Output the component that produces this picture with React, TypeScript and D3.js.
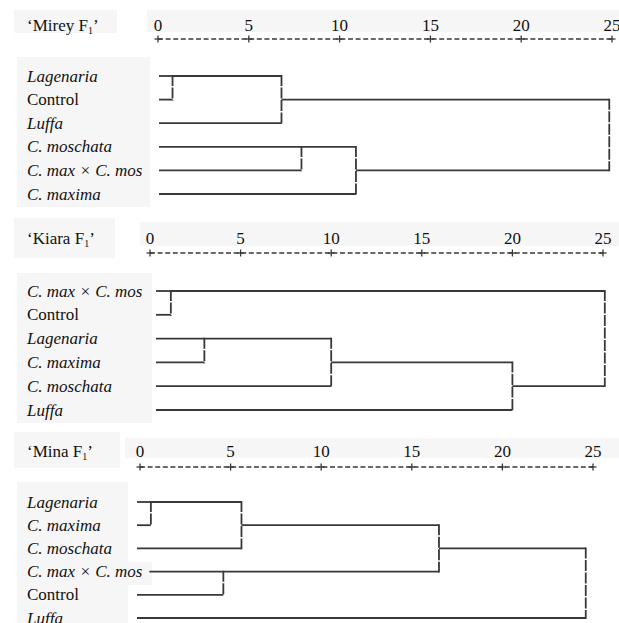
import React, { useEffect, useRef } from "react";
import * as d3 from "d3";

// ---------- data ----------
const TICKS = [0, 5, 10, 15, 20, 25];

const MIREY_TITLE = "Mirey";
const MIREY_LEAVES = ["Lagenaria", "Control", "Luffa", "C. moschata", "C. max × C. mos", "C. maxima"];
const MIREY_ITALIC = [true, false, true, true, true, true];
// [rowA, rowB, distance, rowOfMergedCluster]
const MIREY_MERGES: [number, number, number, number][] = [
  [0, 1, 0.8, 0],
  [0, 2, 6.8, 1],
  [3, 4, 7.9, 3],
  [3, 5, 10.9, 4],
  [1, 4, 24.85, 1],
];

const KIARA_TITLE = "Kiara";
const KIARA_LEAVES = ["C. max × C. mos", "Control", "Lagenaria", "C. maxima", "C. moschata", "Luffa"];
const KIARA_ITALIC = [true, false, true, true, true, true];
const KIARA_MERGES: [number, number, number, number][] = [
  [0, 1, 1.15, 0],
  [2, 3, 3.0, 2],
  [2, 4, 10.0, 3],
  [3, 5, 20.0, 4],
  [0, 4, 25.1, 0],
];

const MINA_TITLE = "Mina";
const MINA_LEAVES = ["Lagenaria", "C. maxima", "C. moschata", "C. max × C. mos", "Control", "Luffa"];
const MINA_ITALIC = [true, true, true, true, false, true];
const MINA_MERGES: [number, number, number, number][] = [
  [0, 1, 0.6, 0],
  [0, 2, 5.6, 1],
  [3, 4, 4.6, 3],
  [1, 3, 16.5, 2],
  [2, 5, 24.6, 2],
];

// ---------- layout ----------
const PANELS = [
  {
    title: MIREY_TITLE, leaves: MIREY_LEAVES, italic: MIREY_ITALIC, merges: MIREY_MERGES,
    titleBox: [14, 10, 103, 23], bandBox: [147, 10, 472, 22], labelBoxes: [[17, 57, 133, 150]],
    textY: 31, axisY: 39, x0: 158, x1: 612, rowTop: 76, rowBottom: 194, startOff: 1,
  },
  {
    title: KIARA_TITLE, leaves: KIARA_LEAVES, italic: KIARA_ITALIC, merges: KIARA_MERGES,
    titleBox: [14, 218, 101, 40], bandBox: [140, 222, 479, 24], labelBoxes: [[17, 273, 135, 150]],
    textY: 244, axisY: 253, x0: 150, x1: 603, rowTop: 291, rowBottom: 410, startOff: 6,
  },
  {
    title: MINA_TITLE, leaves: MINA_LEAVES, italic: MINA_ITALIC, merges: MINA_MERGES,
    titleBox: [14, 432, 106, 36], bandBox: [125, 438, 494, 20], labelBoxes: [[17, 482, 111, 141], [17, 562, 135, 23]],
    textY: 457, axisY: 467, x0: 140, x1: 593, rowTop: 502, rowBottom: 618, startOff: -3,
  },
];

const FONT = "'Liberation Serif', 'Times New Roman', serif";
const INK = "#383838";

export default function App() {
  const ref = useRef<SVGSVGElement>(null);

  useEffect(() => {
    const svg = d3.select(ref.current);
    svg.selectAll("*").remove();

    PANELS.forEach((p) => {
      const g = svg.append("g");
      const x = d3.scaleLinear().domain([0, 25]).range([p.x0, p.x1]);
      const y = d3.scaleLinear().domain([0, p.leaves.length - 1]).range([p.rowTop, p.rowBottom]);

      // faint background boxes
      const boxes = [p.titleBox, p.bandBox, ...p.labelBoxes];
      boxes.forEach((b) => {
        g.append("rect").attr("x", b[0]).attr("y", b[1]).attr("width", b[2]).attr("height", b[3])
          .attr("fill", "#f6f6f6");
      });

      // title
      const t = g.append("text").attr("x", 27).attr("y", p.textY)
        .attr("font-family", FONT).attr("font-size", 17).attr("fill", "#111");
      t.append("tspan").text("\u2018" + p.title + " F");
      t.append("tspan").attr("font-size", 10).attr("dy", 3).text("1");
      t.append("tspan").attr("dy", -3).text("\u2019");

      // axis
      g.append("line").attr("x1", x(0)).attr("x2", x(25)).attr("y1", p.axisY).attr("y2", p.axisY)
        .attr("stroke", INK).attr("stroke-width", 1.3).attr("stroke-dasharray", "5,2.6");
      TICKS.forEach((v) => {
        g.append("line").attr("x1", x(v)).attr("x2", x(v)).attr("y1", p.axisY - 3.5).attr("y2", p.axisY + 3.5)
          .attr("stroke", INK).attr("stroke-width", 1.3);
        g.append("line").attr("x1", x(v) - 3.5).attr("x2", x(v) + 3.5).attr("y1", p.axisY).attr("y2", p.axisY)
          .attr("stroke", INK).attr("stroke-width", 1.3);
        g.append("text").attr("x", x(v)).attr("y", p.textY).attr("text-anchor", "middle")
          .attr("font-family", FONT).attr("font-size", 17).attr("fill", "#111").text(String(v));
      });

      // leaf labels
      const labelEnds: number[] = [];
      p.leaves.forEach((name, i) => {
        const lt = g.append("text").attr("x", 27).attr("y", y(i) + 5.5)
          .attr("font-family", FONT).attr("font-size", 17).attr("fill", "#111")
          .attr("font-style", p.italic[i] ? "italic" : "normal").text(name);
        const node = lt.node() as SVGTextElement;
        let w = 0;
        try { w = node.getComputedTextLength(); } catch (e) { w = name.length * 8; }
        labelEnds.push(27 + w);
      });

      // dendrogram
      const clusterX = new Map<number, number>();
      p.leaves.forEach((_, i) => {
        clusterX.set(i, Math.max(x(0) + p.startOff, labelEnds[i] + 7));
      });
      p.merges.forEach(([a, b, h, r]) => {
        const xa = clusterX.get(a) as number;
        const xb = clusterX.get(b) as number;
        const xh = x(h);
        g.append("line").attr("x1", xa).attr("x2", xh).attr("y1", y(a)).attr("y2", y(a))
          .attr("stroke", INK).attr("stroke-width", 1.8);
        g.append("line").attr("x1", xb).attr("x2", xh).attr("y1", y(b)).attr("y2", y(b))
          .attr("stroke", INK).attr("stroke-width", 1.8);
        g.append("line").attr("x1", xh).attr("x2", xh).attr("y1", y(a) - 0.9).attr("y2", y(b) + 0.9)
          .attr("stroke", INK).attr("stroke-width", 1.8).attr("stroke-dasharray", "11,1.5");
        clusterX.delete(a);
        clusterX.delete(b);
        clusterX.set(r, xh);
      });
    });
  }, []);

  return (
    <svg ref={ref} width={619} height={623}
      style={{ position: "absolute", left: 0, top: 0, background: "#fff" }} />
  );
}
